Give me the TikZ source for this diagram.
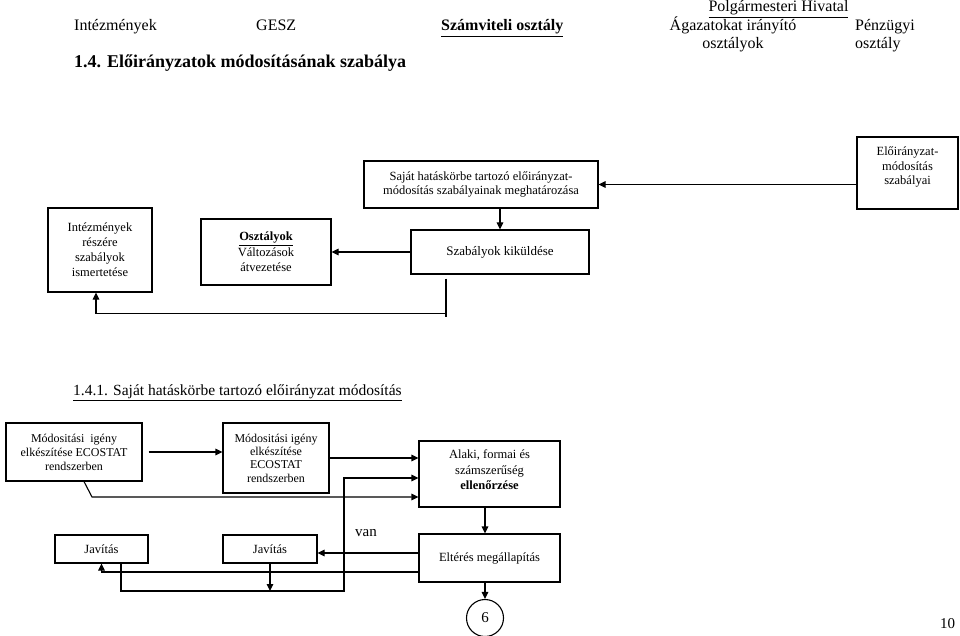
\documentclass[tikz,border=0pt]{standalone}
\usepackage{fontspec}
\setmainfont{Liberation Serif}
\usetikzlibrary{arrows.meta}
\tikzset{
  box/.style={draw, line width=1.1pt, align=center, inner sep=2pt, font=\fontsize{12.5}{14.5}\selectfont},
  arr/.style={draw, line width=1.1pt, -{Triangle[length=7pt,width=6.5pt]}},
  ln/.style={draw, line width=1.1pt},
  hdr/.style={font=\fontsize{16}{18}\selectfont, anchor=base west, inner sep=0pt},
}
\begin{document}
\begin{tikzpicture}[x=1pt,y=-1pt]
\useasboundingbox (0,0) rectangle (960,636);
% header
\node[hdr] (h1) at (74,31) {Intézmények};
\node[hdr] (h2) at (256,31) {GESZ};
\node[hdr] (h3) at (441,31) {\textbf{\underline{Számviteli osztály}}};
\node[hdr, anchor=base] (h4) at (778.5,12) {\underline{Polgármesteri Hivatal}};
\node[hdr, anchor=base] (h5) at (733,31) {Ágazatokat irányító};
\node[hdr, anchor=base] (h6) at (733,49) {osztályok};
\node[hdr] (h7) at (855,31) {Pénzügyi};
\node[hdr] (h8) at (855,49) {osztály};
\node[hdr, font=\fontsize{18}{21}\selectfont\bfseries] (title) at (74,68) {1.4. Előirányzatok módosításának szabálya};
% top section
\node[box, minimum width=234pt, minimum height=47pt] (A) at (481,184.5) {Saját hatáskörbe tartozó előirányzat-\\módosítás szabályainak meghatározása};
\node[box, minimum width=101pt, minimum height=72pt] (B) at (907.5,173) {Előirányzat-\\módosítás\\szabályai\\\mbox{}};
\node[box, minimum width=178pt, minimum height=44pt, font=\fontsize{13}{15}\selectfont] (C) at (500,252) {Szabályok kiküldése};
\node[box, minimum width=130pt, minimum height=66pt, font=\fontsize{12.5}{15.5}\selectfont] (D) at (266,252) {\textbf{\underline{Osztályok}}\\Változások\\átvezetése};
\node[box, minimum width=104pt, minimum height=84pt, font=\fontsize{12.5}{15}\selectfont] (E) at (100,250) {Intézmények\\részére\\szabályok\\ismertetése};
\draw[arr] (B.west |- A.east) -- (A.east);
\draw[arr] (A.south -| C.north) -- (C.north);
\draw[arr] (C.west) -- (D.east);
\draw[ln] ([xshift=-54pt,yshift=-4pt]C.south) -- ([xshift=-54pt,yshift=-42pt]C.south);
\draw[arr] ([xshift=-54pt,yshift=-39pt]C.south) -| ([xshift=-4pt]E.south);
% section 2
\node[hdr, font=\fontsize{15.5}{18}\selectfont] (sub) at (73,395) {\underline{1.4.1. Saját hatáskörbe tartozó előirányzat módosítás}};
\node[box, minimum width=136pt, minimum height=58pt, font=\fontsize{12}{14}\selectfont] (F) at (74,452) {Módositási\ \ igény\\elkészítése ECOSTAT\\rendszerben};
\node[box, minimum width=106pt, minimum height=70pt, font=\fontsize{12}{13.4}\selectfont] (G) at (276,458) {Módositási igény\\elkészítése\\ECOSTAT\\rendszerben};
\node[box, minimum width=141pt, minimum height=66pt, font=\fontsize{12.5}{15.5}\selectfont] (H) at (489.5,474) {Alaki, formai és\\számszerűség\\\textbf{ellenőrzése}\\[-7pt]\mbox{}};
\node[box, minimum width=141pt, minimum height=48pt] (I) at (489.5,558) {Eltérés megállapítás};
\node[box, minimum width=93pt, minimum height=28pt] (J1) at (101.5,549) {Javítás};
\node[box, minimum width=94pt, minimum height=28pt] (J2) at (270,549) {Javítás};
\node[draw, line width=1.1pt, circle, minimum size=37pt, inner sep=0pt, font=\fontsize{15}{17}\selectfont] (c6) at (485,618) {6};
\node[hdr, font=\fontsize{15}{17}\selectfont] (van) at (355,536) {van};
\node[hdr, font=\fontsize{15}{17}\selectfont] (pg) at (940,628) {10};
\coordinate (lp) at (344,591);
\coordinate (lq) at (344,478);
\coordinate (fd) at (92,497);
\coordinate (iw) at ([yshift=5pt]I.west);
\draw[arr] ([xshift=6pt]F.east) -- (G.west |- F.east);
\draw[arr] (G.east) -- (H.west |- G.east);
\draw[arr] ([xshift=10pt]F.south) -- (fd) -- (H.west |- fd);
\draw[arr] ([xshift=19.5pt]J1.south) |- (lp) -- (lq) -- (H.west |- lq);
\draw[arr] (J2.south) -- (J2.south |- lp);
\draw[arr] (iw) -- (J2.east |- iw);
\draw[arr] ([yshift=-14pt]I.west) -| (J1.south);
\draw[arr] ([xshift=-4.5pt]H.south) -- ([xshift=-4.5pt]I.north);
\draw[arr] ([xshift=-4.5pt]I.south) -- (c6.north);
\end{tikzpicture}
\end{document}
